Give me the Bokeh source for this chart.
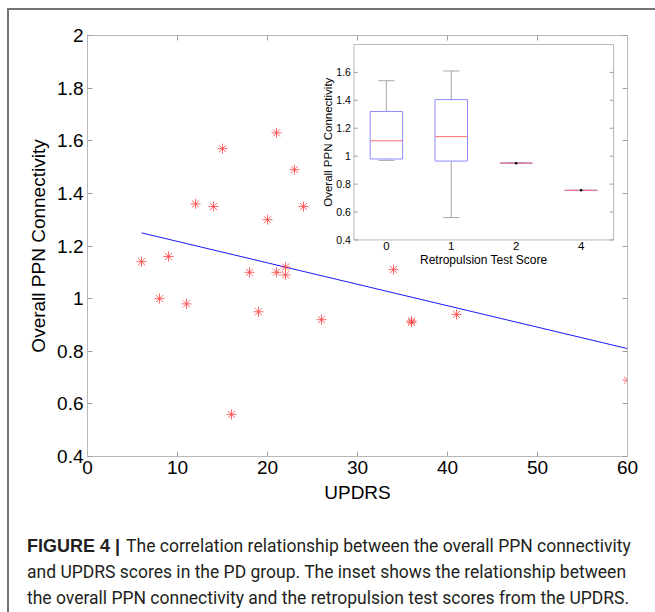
import math
from bokeh.plotting import figure
from bokeh.layouts import column
from bokeh.models import Range1d, LinearAxis, FixedTicker, Div
from bokeh.core.properties import value
from bokeh.embed import file_html
from bokeh.resources import INLINE

# ---------------- data ----------------
updrs = [6, 8, 9, 11, 12, 14, 15, 16, 18, 19, 20, 21, 21, 22, 22, 23, 24, 26, 34, 36, 36, 41, 60]
ppn = [1.14, 1.00, 1.16, 0.98, 1.36, 1.35, 1.57, 0.56, 1.10, 0.95, 1.30, 1.63, 1.10, 1.12,
       1.09, 1.49, 1.35, 0.92, 1.11, 0.915, 0.91, 0.94, 0.69]
fit_x = [6, 60]
fit_y = [1.25, 0.81]

x_ticks = [0, 10, 20, 30, 40, 50, 60]
y_ticks = [0.4, 0.6, 0.8, 1.0, 1.2, 1.4, 1.6, 1.8, 2.0]
y_tick_labels = ["0.4", "0.6", "0.8", "1", "1.2", "1.4", "1.6", "1.8", "2"]

retro_labels = ["0", "1", "2", "4"]
box_q1 = [0.98, 0.965, 0.95, 0.755]
box_med = [1.11, 1.14, 0.95, 0.755]
box_q3 = [1.32, 1.405, 0.95, 0.755]
whisk_lo = [0.97, 0.56, 0.95, 0.755]
whisk_hi = [1.54, 1.61, 0.95, 0.755]
inset_ylim = [0.4, 1.8]
inset_y_ticks = [0.4, 0.6, 0.8, 1.0, 1.2, 1.4, 1.6]
inset_y_labels = ["0.4", "0.6", "0.8", "1", "1.2", "1.4", "1.6"]

caption_bold = "FIGURE 4 |"
caption_lines = [
    "The correlation relationship between the overall PPN connectivity",
    "and UPDRS scores in the PD group. The inset shows the relationship between",
    "the overall PPN connectivity and the retropulsion test scores from the UPDRS.",
]

# ---------------- layout / style ----------------
FONT = "Liberation Sans"
AX_GREY = "#b8b8b8"
TICK_GREY = "#a0a0a0"
W = 646
H1 = 505
H2 = 97
# inset placement inside the main axes (in main data units)
INSET_X = (29.6, 58.45)
INSET_Y = (1.223, 1.966)

p = figure(width=W, height=H1, x_range=Range1d(0, 60), y_range=Range1d(0.4, 2.0),
           output_backend="svg", toolbar_location=None,
           min_border_left=78, min_border_right=28, min_border_top=25, min_border_bottom=59)
p.grid.visible = False
p.outline_line_color = None
p.background_fill_color = "white"
p.border_fill_color = "white"

bottom_ax = p.below[0]
left_ax = p.left[0]
bottom_ax.ticker = FixedTicker(ticks=x_ticks)
left_ax.ticker = FixedTicker(ticks=y_ticks)
left_ax.major_label_overrides = dict(zip(y_ticks, y_tick_labels))
bottom_ax.axis_label = "UPDRS"
left_ax.axis_label = "Overall PPN Connectivity"

top_ax = LinearAxis(ticker=FixedTicker(ticks=x_ticks),
                    major_label_overrides={t: "" for t in x_ticks})
right_ax = LinearAxis(ticker=FixedTicker(ticks=y_ticks),
                      major_label_overrides={t: "" for t in y_ticks})
p.add_layout(top_ax, "above")
p.add_layout(right_ax, "right")

for ax in [bottom_ax, left_ax, top_ax, right_ax]:
    ax.axis_line_color = AX_GREY
    ax.major_tick_line_color = TICK_GREY
    ax.major_tick_in = 5
    ax.major_tick_out = 0
    ax.minor_tick_line_color = None
    ax.major_label_text_font = FONT
    ax.major_label_text_font_size = "19px"
    ax.major_label_text_color = "black"
    ax.major_label_standoff = 4
    ax.axis_label_text_font = FONT
    ax.axis_label_text_font_size = "19px"
    ax.axis_label_text_font_style = "normal"
    ax.axis_label_text_color = "black"
    ax.axis_label_standoff = 5
top_ax.major_label_standoff = 0
right_ax.major_label_standoff = 0

# ---------------- main scatter + fit ----------------
p.line(fit_x, fit_y, line_color="#1a1aff", line_width=1)
p.scatter(updrs, ppn, marker="asterisk", size=10, line_color="#ff4040", line_width=0.8)

# ---------------- inset (own ranges mapped onto a sub-box) ----------------
n = len(retro_labels)
ix0, ix1 = 0.5, n + 0.5
iy0, iy1 = inset_ylim
sx = (ix1 - ix0) / (INSET_X[1] - INSET_X[0])
sy = (iy1 - iy0) / (INSET_Y[1] - INSET_Y[0])
p.extra_x_ranges = {"inset": Range1d(ix0 - (INSET_X[0] - 0) * sx, ix1 + (60 - INSET_X[1]) * sx)}
p.extra_y_ranges = {"inset": Range1d(iy0 - (INSET_Y[0] - 0.4) * sy, iy1 + (2.0 - INSET_Y[1]) * sy)}
R = dict(x_range_name="inset", y_range_name="inset")

pos = list(range(1, n + 1))
p.quad(left=[ix0], right=[ix1], bottom=[iy0], top=[iy1], fill_color="white",
       line_color=AX_GREY, line_width=1, **R)

WG = "#a6a6a6"
p.segment(x0=pos, y0=whisk_lo, x1=pos, y1=box_q1, line_color=WG, line_width=1, **R)
p.segment(x0=pos, y0=box_q3, x1=pos, y1=whisk_hi, line_color=WG, line_width=1, **R)
cap_l = [x - 0.125 for x in pos]
cap_r = [x + 0.125 for x in pos]
p.segment(x0=cap_l, y0=whisk_lo, x1=cap_r, y1=whisk_lo, line_color=WG, line_width=1, **R)
p.segment(x0=cap_l, y0=whisk_hi, x1=cap_r, y1=whisk_hi, line_color=WG, line_width=1, **R)
box_l = [x - 0.25 for x in pos]
box_r = [x + 0.25 for x in pos]
p.quad(left=box_l, right=box_r, bottom=box_q1, top=box_q3, fill_color=None,
       line_color="#8c8cff", line_width=1, **R)
p.segment(x0=box_l, y0=box_med, x1=box_r, y1=box_med, line_color="#ff7070", line_width=1, **R)
single = [i for i in range(n) if box_q1[i] == box_q3[i]]
p.scatter([pos[i] for i in single], [box_med[i] for i in single], size=2.5,
          fill_color="black", line_color=None, **R)

# inset ticks
p.ray(x=[ix0] * len(inset_y_ticks), y=inset_y_ticks, length=4, angle=0,
      length_units="screen", line_color=TICK_GREY, **R)
p.ray(x=[ix1] * len(inset_y_ticks), y=inset_y_ticks, length=4, angle=math.pi,
      length_units="screen", line_color=TICK_GREY, **R)
# inset tick labels
p.text(x=[ix0] * len(inset_y_ticks), y=inset_y_ticks, text=inset_y_labels,
       x_offset=-3, text_align="right", text_baseline="middle",
       text_font=value(FONT), text_font_size="10.5px", text_color="black", **R)
p.text(x=pos, y=[iy0] * n, text=retro_labels, y_offset=2,
       text_align="center", text_baseline="top",
       text_font=value(FONT), text_font_size="11.5px", text_color="black", **R)
# inset axis labels
p.text(x=[ix0], y=[(iy0 + iy1) / 2], text=["Overall PPN Connectivity"], angle=math.pi / 2,
       x_offset=-26, text_align="center", text_baseline="middle",
       text_font=value(FONT), text_font_size="11.5px", text_color="black", **R)
p.text(x=[(ix0 + ix1) / 2], y=[iy0], text=["Retropulsion Test Score"], y_offset=13,
       text_align="center", text_baseline="top",
       text_font=value(FONT), text_font_size="12px", text_color="black", **R)

# ---------------- caption ----------------
CAP_COLOR = "#231f20"
cap_html = (
    f'<span style="font-family:\'{FONT}\';font-weight:bold;font-size:18px;'
    f'margin-right:6px;">{caption_bold}</span>' + caption_lines[0] + "<br>"
    + "<br>".join(caption_lines[1:])
)
cap = Div(text=cap_html, width=W, height=H2,
          styles={"font-family": "Roboto", "font-size": "17.5px", "line-height": "26px",
                  "color": CAP_COLOR, "padding-left": "13px", "padding-top": "13px",
                  "white-space": "nowrap", "box-sizing": "border-box"})

layout = column(p, cap, spacing=0,
                styles={"margin-left": "7px", "margin-top": "8px",
                        "border-left": "2px solid #737373", "border-top": "2px solid #737373"})

open("out.html", "w").write(file_html(layout, INLINE))
